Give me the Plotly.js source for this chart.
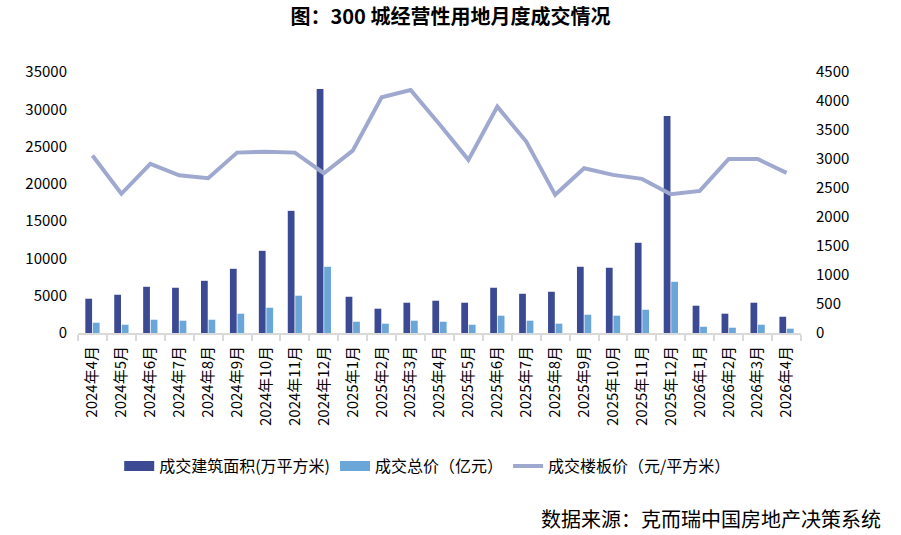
<!DOCTYPE html>
<html>
<head>
<meta charset="utf-8">
<script src="https://cdn.plot.ly/plotly-3.0.1.min.js"></script>
<style>
  html, body { margin: 0; padding: 0; background: #ffffff; }
  #chart { width: 901px; height: 535px; }
</style>
</head>
<body>
<div id="chart"></div>
<script>
// Monthly land transactions for commercial-use land in 300 cities
const months = [
  "2024年4月", "2024年5月", "2024年6月", "2024年7月", "2024年8月", "2024年9月",
  "2024年10月", "2024年11月", "2024年12月", "2025年1月", "2025年2月", "2025年3月",
  "2025年4月", "2025年5月", "2025年6月", "2025年7月", "2025年8月", "2025年9月",
  "2025年10月", "2025年11月", "2025年12月", "2026年1月", "2026年2月", "2026年3月",
  "2026年4月"
];
// 成交建筑面积 (万平方米)
const floorArea = [
  4600, 5130, 6200, 6070, 7000, 8610, 11020, 16380, 32720, 4860, 3260, 4060,
  4330, 4060, 6070, 5260, 5530, 8880, 8750, 12100, 29100, 3660, 2590, 4060, 2180
];
// 成交总价 (亿元)
const totalPrice = [
  1380, 1110, 1780, 1650, 1780, 2590, 3390, 5000, 8880, 1510, 1250, 1650,
  1510, 1110, 2320, 1650, 1250, 2450, 2320, 3120, 6870, 840, 710, 1110, 580
];
// 成交楼板价 (元/平方米)
const floorPrice = [
  3060, 2400, 2915, 2720, 2670, 3110, 3127, 3110, 2755, 3145, 4064, 4190,
  3600, 2985, 3903, 3300, 2382, 2841, 2726, 2657, 2394, 2450, 3000, 3000, 2760
];

const seriesNames = ['成交建筑面积(万平方米)', '成交总价（亿元）', '成交楼板价（元/平方米）'];
const colors = { area: '#3B4A92', total: '#6AA6D8', price: '#9FA8CF' };

const CJK = '"Noto Sans CJK SC", "Noto Sans", sans-serif';

const traces = [
  {
    type: 'bar', name: seriesNames[0], legendgroup: 'a', showlegend: false,
    x: months, y: floorArea,
    marker: { color: colors.area }
  },
  {
    type: 'bar', name: seriesNames[1], legendgroup: 'b', showlegend: false,
    x: months, y: totalPrice,
    marker: { color: colors.total }
  },
  {
    type: 'scatter', mode: 'lines', name: seriesNames[2], legendgroup: 'c', legendrank: 3,
    x: months, y: floorPrice, yaxis: 'y2',
    line: { color: colors.price, width: 4 }
  },
  // wide rectangular legend keys for the two bar series
  {
    type: 'scatter', mode: 'lines', name: seriesNames[0], legendgroup: 'a', legendrank: 1,
    x: [null], y: [null], line: { color: colors.area, width: 10 }, hoverinfo: 'skip'
  },
  {
    type: 'scatter', mode: 'lines', name: seriesNames[1], legendgroup: 'b', legendrank: 2,
    x: [null], y: [null], line: { color: colors.total, width: 10 }, hoverinfo: 'skip'
  }
];

const layout = {
  width: 901, height: 535,
  paper_bgcolor: '#ffffff', plot_bgcolor: '#ffffff',
  margin: { l: 78, r: 100, t: 72, b: 202 },
  font: { family: CJK, size: 15, color: '#000000' },
  title: {
    text: '<b>图：300 城经营性用地月度成交情况</b>',
    font: { family: CJK, size: 20, color: '#000000' },
    x: 0.5, xanchor: 'center', yref: 'container', y: 0.968, yanchor: 'middle'
  },
  barmode: 'group', bargap: 0.48, bargroupgap: 0.1,
  showlegend: true,
  legend: {
    orientation: 'h', x: 0.057, xanchor: 'left', y: -0.51, yanchor: 'middle',
    font: { family: CJK, size: 16, color: '#000000' },
    traceorder: 'normal'
  },
  xaxis: {
    type: 'category', tickangle: -90,
    showline: true, linecolor: '#d9d9d9', linewidth: 2,
    ticks: 'outside', tickson: 'boundaries', ticklen: 6, tickcolor: '#d9d9d9', tickwidth: 2,
    ticklabelstandoff: 5,
    showgrid: false, zeroline: false,
    tickfont: { family: CJK, size: 15, color: '#000000' }
  },
  yaxis: {
    range: [0, 35000], dtick: 5000, tick0: 0, tickformat: 'd',
    showgrid: false, zeroline: false, showline: false, ticks: '',
    ticklabelstandoff: 10,
    tickfont: { family: CJK, size: 15, color: '#000000' }
  },
  yaxis2: {
    overlaying: 'y', side: 'right',
    range: [0, 4500], dtick: 500, tick0: 0, tickformat: 'd',
    showgrid: false, zeroline: false, showline: false, ticks: '',
    ticklabelstandoff: 14,
    tickfont: { family: CJK, size: 15, color: '#000000' }
  },
  annotations: [
    {
      text: '数据来源：克而瑞中国房地产决策系统',
      xref: 'paper', yref: 'paper', x: 1.113, y: -0.711,
      xanchor: 'right', yanchor: 'middle', showarrow: false,
      font: { family: CJK, size: 20, color: '#000000' }
    }
  ]
};

Plotly.newPlot('chart', traces, layout, { displayModeBar: false, staticPlot: true });
</script>
</body>
</html>
